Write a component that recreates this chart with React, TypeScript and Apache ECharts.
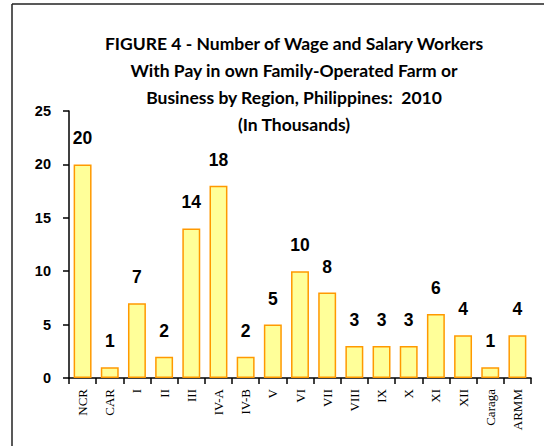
import React, { useEffect, useRef } from "react";
import * as echarts from "echarts";

const categories = ["NCR", "CAR", "I", "II", "III", "IV-A", "IV-B", "V", "VI", "VII", "VIII", "IX", "X", "XI", "XII", "Caraga", "ARMM"];
const workers = [20, 1, 7, 2, 14, 18, 2, 5, 10, 8, 3, 3, 3, 6, 4, 1, 4];
const titleLines = [
  "FIGURE 4 - Number of Wage and Salary Workers",
  "With Pay in own Family-Operated Farm or",
  "Business by Region, Philippines:  2010",
  "(In Thousands)",
];

export default function App() {
  const ref = useRef<HTMLDivElement>(null);
  useEffect(() => {
    if (!ref.current) return;
    const chart = echarts.init(ref.current, null, { renderer: "svg" });
    chart.setOption({
      animation: false,
      backgroundColor: "#ffffff",
      title: {
        text: titleLines.join("\n"),
        left: 289,
        top: 25,
        textAlign: "center",
        textStyle: {
          fontFamily: "Lato",
          fontWeight: "bold",
          fontSize: 17.5,
          lineHeight: 27,
          color: "#000",
        },
      },
      graphic: [
        { type: "line", shape: { x1: 12, y1: 4, x2: 544, y2: 4 }, style: { stroke: "#222", lineWidth: 1.5 } },
        { type: "line", shape: { x1: 12, y1: 4, x2: 12, y2: 446 }, style: { stroke: "#222", lineWidth: 1.5 } },
      ],
      grid: { left: 69, right: 13, top: 111, bottom: 68, containLabel: false },
      xAxis: {
        type: "category",
        data: categories,
        boundaryGap: true,
        axisLine: { lineStyle: { color: "#000", width: 1.5 } },
        axisTick: { show: true, length: 6, alignWithLabel: false, lineStyle: { color: "#000", width: 1.5 } },
        axisLabel: {
          rotate: 90,
          interval: 0,
          margin: 11,
          fontFamily: "Liberation Serif",
          fontSize: 13,
          color: "#000",
        },
      },
      yAxis: {
        type: "value",
        min: 0,
        max: 25,
        interval: 5,
        splitLine: { show: false },
        axisLine: { show: true, lineStyle: { color: "#000", width: 1.5 } },
        axisTick: { show: true, length: 6, lineStyle: { color: "#000", width: 1.5 } },
        axisLabel: {
          margin: 18,
          fontFamily: "Liberation Sans",
          fontWeight: "bold",
          fontSize: 14.5,
          color: "#000",
        },
      },
      series: [
        {
          type: "bar",
          data: workers,
          barCategoryGap: "34%",
          itemStyle: { color: "#FFFF99", borderColor: "#FF9900", borderWidth: 1.5 },
          label: {
            show: true,
            position: "top",
            distance: 17,
            fontFamily: "Liberation Sans",
            fontWeight: "bold",
            fontSize: 17.5,
            color: "#000",
          },
        },
      ],
    });
    return () => chart.dispose();
  }, []);
  return <div ref={ref} style={{ position: "absolute", left: 0, top: 0, width: 544, height: 446 }} />;
}
